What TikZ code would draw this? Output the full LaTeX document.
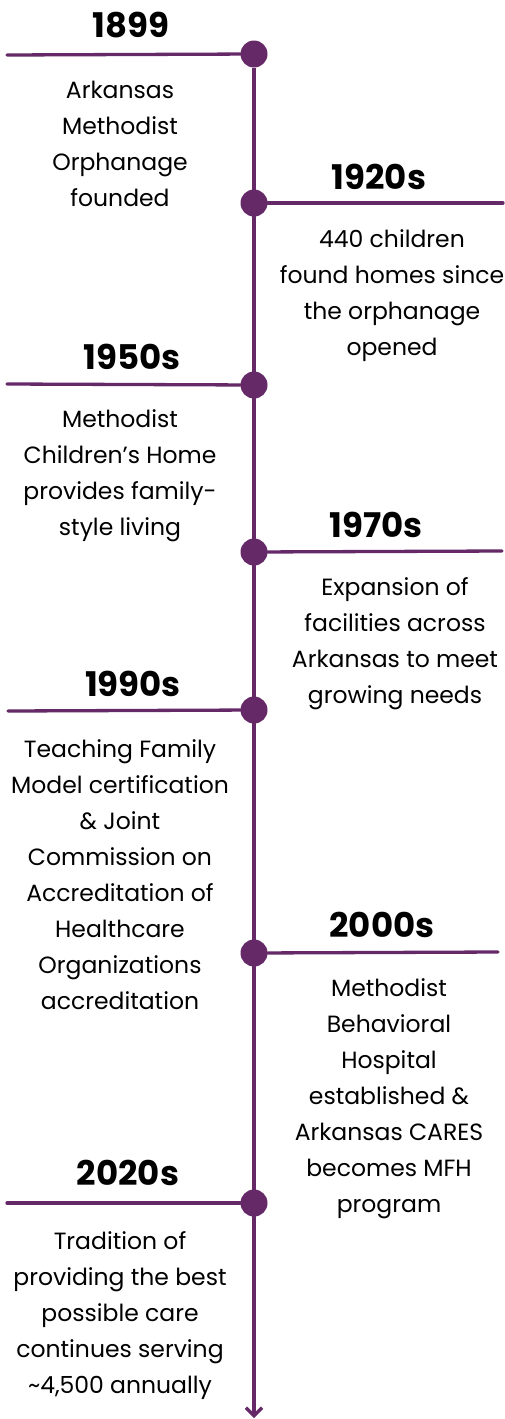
\documentclass[tikz,border=0pt]{standalone}
\usepackage{fontspec}
\setmainfont{Poppins}
\usetikzlibrary{arrows.meta}
\definecolor{plum}{RGB}{101,41,104}
\tikzset{
  dot/.style={circle,fill=plum,inner sep=0,minimum size=27pt},
  year/.style={anchor=base,font=\fontsize{34}{34}\selectfont\bfseries},
  blurb/.style={anchor=north,align=center,inner sep=0,font=\fontsize{23.5}{36}\selectfont},
  branch/.style={draw=plum,line width=3.3pt,line cap=round},
}
\begin{document}
\begin{tikzpicture}[x=1pt,y=-1pt]
  \useasboundingbox (0,0) rectangle (504,1419);
  % dots on the main line
  \node[dot] (d1899) at (254,54) {};
  \node[dot] (d1920) at (254,203) {};
  \node[dot] (d1950) at (254,385) {};
  \node[dot] (d1970) at (254,552) {};
  \node[dot] (d1990) at (254,710) {};
  \node[dot] (d2000) at (254,953) {};
  \node[dot] (d2020) at (254,1203) {};
  \coordinate (tip) at (254,1418);
  \draw[branch,line cap=butt,-{Straight Barb[length=8pt,width=16pt]}] (d1899) -- (tip);

  % branch ends
  \coordinate (e1899) at (7,55);
  \coordinate (e1920) at (503,203);
  \coordinate (e1950) at (7,384);
  \coordinate (e1970) at (502,551);
  \coordinate (e1990) at (8,711);
  \coordinate (e2000) at (498,952);
  \coordinate (e2020) at (7,1203);
  \draw[branch] (e1899) -- (d1899);
  \draw[branch] (d1920) -- (e1920);
  \draw[branch] (e1950) -- (d1950);
  \draw[branch] (d1970) -- (e1970);
  \draw[branch] (e1990) -- (d1990);
  \draw[branch] (d2000) -- (e2000);
  \draw[branch] (e2020) -- (d2020);

  % years
  \node[year] (y1899) at (131,37) {1899};
  \node[year] (y1920) at (379,189) {1920s};
  \node[year] (y1950) at (132,369) {1950s};
  \node[year] (y1970) at (376,537) {1970s};
  \node[year] (y1990) at (133,696) {1990s};
  \node[year] (y2000) at (382,937) {2000s};
  \node[year] (y2020) at (128,1185) {2020s};

  % texts
  \node[blurb] (t1899) at (120,81) {Arkansas\\Methodist\\Orphanage\\founded};
  \node[blurb] (t1920) at (392,229) {440 children\\found homes since\\the orphanage\\opened};
  \node[blurb] (t1950) at (120,409) {Methodist\\Children’s Home\\provides family-\\style living};
  \node[blurb] (t1970) at (395,577) {Expansion of\\facilities across\\Arkansas to meet\\growing needs};
  \node[blurb] (t1990) at (120,739) {Teaching Family\\Model certification\\\& Joint\\Commission on\\Accreditation of\\Healthcare\\Organizations\\accreditation};
  \node[blurb] (t2000) at (389,978) {Methodist\\Behavioral\\Hospital\\established \&\\Arkansas CARES\\becomes MFH\\program};
  \node[blurb] (t2020) at (120,1231) {Tradition of\\providing the best\\possible care\\continues serving\\\textasciitilde4,500 annually};
\end{tikzpicture}
\end{document}
